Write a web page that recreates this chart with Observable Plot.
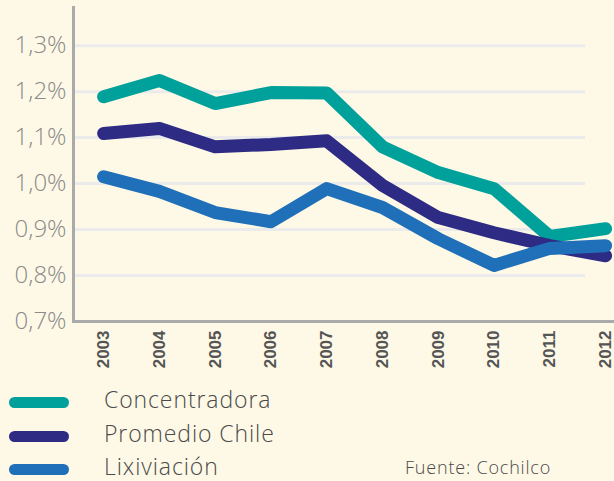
<!DOCTYPE html>
<html>
<head>
<meta charset="utf-8">
<script src="https://cdn.jsdelivr.net/npm/d3@7"></script>
<script src="https://cdn.jsdelivr.net/npm/@observablehq/plot@0.6"></script>
<style>
  html, body { margin: 0; padding: 0; background: #fef9e6; }
  #wrap { position: relative; width: 614px; height: 481px; overflow: hidden; font-family: "Open Sans", sans-serif; }
  #chart svg { display: block; }
  .leg { position: absolute; left: 0; width: 614px; height: 26px; }
  .swatch { position: absolute; left: 9px; width: 60px; height: 11px; border-radius: 6px; }
  .lab { position: absolute; left: 104px; font-size: 23px; font-weight: 300; color: #4a4a4a; line-height: 26px; top: -16px; white-space: nowrap; letter-spacing: 0.9px; }
  .src { position: absolute; left: 405px; top: 457px; font-size: 18px; font-weight: 300; color: #4a4a4a; line-height: 20px; letter-spacing: 0.8px; white-space: nowrap; }
</style>
</head>
<body>
<div id="wrap">
  <div id="chart"></div>
  <div id="legend"></div>
  <div class="src" id="src"></div>
</div>
<script>
const years = [2003, 2004, 2005, 2006, 2007, 2008, 2009, 2010, 2011, 2012];
const seriesNames = ["Concentradora", "Promedio Chile", "Lixiviación"];
const seriesColors = ["#00a19a", "#2e2b84", "#1f70b9"];
const concentradora = [1.189, 1.224, 1.174, 1.198, 1.197, 1.080, 1.024, 0.989, 0.885, 0.902];
const promedioChile = [1.109, 1.120, 1.080, 1.085, 1.093, 0.996, 0.926, 0.893, 0.865, 0.843];
const lixiviacion = [1.015, 0.983, 0.937, 0.917, 0.989, 0.948, 0.880, 0.822, 0.859, 0.865];
const yTicks = [0.7, 0.8, 0.9, 1.0, 1.1, 1.2, 1.3];
const sourceText = "Fuente: Cochilco";

const allSeries = [concentradora, promedioChile, lixiviacion];
const data = [];
seriesNames.forEach((name, i) => {
  years.forEach((yr, j) => data.push({ series: name, year: yr, value: allSeries[i][j] }));
});

const fmt = d => d.toFixed(1).replace(".", ",") + "%";

const chart = Plot.plot({
  width: 614,
  height: 380,
  marginLeft: 73,
  marginRight: 0,
  marginTop: 7,
  marginBottom: 59,
  style: { background: "transparent", fontFamily: "Open Sans, sans-serif" },
  x: { domain: [2002.46, 2012.16] },
  y: { domain: [0.7, 1.383] },
  color: { domain: seriesNames, range: seriesColors },
  marks: [
    Plot.ruleY(yTicks.filter(t => t > 0.7), { stroke: "#ebebeb", strokeWidth: 3, insetRight: 29 }),
    Plot.line(data, {
      x: "year", y: "value", z: "series", stroke: "series",
      strokeWidth: 13, strokeLinejoin: "round", strokeLinecap: "round", clip: true
    }),
    Plot.frame({ anchor: "left", stroke: "#aaaaaa", strokeWidth: 3 }),
    Plot.frame({ anchor: "bottom", stroke: "#aaaaaa", strokeWidth: 3 }),
    Plot.axisY({ ticks: yTicks, tickFormat: fmt, tickSize: 0, tickPadding: 7, fontSize: 24, fontWeight: 300, color: "#8a8a8a", label: null }),
    Plot.axisX({ ticks: years, tickFormat: d => String(d), tickRotate: -90, tickSize: 0, tickPadding: 9, fontSize: 17, fontWeight: "bold", color: "#555", label: null, fontFamily: "Liberation Sans, Arial, sans-serif" })
  ]
});
document.getElementById("chart").appendChild(chart);

const legend = document.getElementById("legend");
const legendY = [402, 436, 469];
seriesNames.forEach((name, i) => {
  const row = document.createElement("div");
  row.className = "leg";
  row.style.top = legendY[i] + "px";
  const sw = document.createElement("div");
  sw.className = "swatch";
  sw.style.background = seriesColors[i];
  sw.style.top = "-5px";
  const lab = document.createElement("div");
  lab.className = "lab";
  lab.textContent = name;
  row.appendChild(sw);
  row.appendChild(lab);
  legend.appendChild(row);
});
document.getElementById("src").textContent = sourceText;
</script>
</body>
</html>
